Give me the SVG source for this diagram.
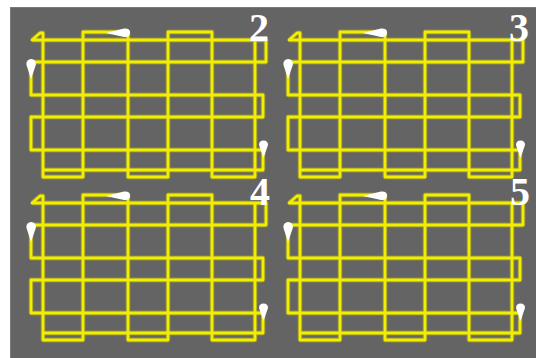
<svg xmlns="http://www.w3.org/2000/svg" xmlns:xlink="http://www.w3.org/1999/xlink" width="536" height="358" viewBox="0 0 536 358">
<style>
.bg{fill:#646464;stroke:#7a7a7a;stroke-width:1}
.sweep{fill:none;stroke:#f2ee00;stroke-width:2.8;stroke-linejoin:round;stroke-linecap:round}
.halo{fill:none;stroke:#c8c400;stroke-opacity:0.4;stroke-width:4.8;stroke-linejoin:round}
.mark{fill:#ffffff}
.num{font-family:"Liberation Serif","Times New Roman",serif;font-size:40px;font-weight:bold;fill:#ffffff;text-anchor:middle}
</style>
<defs>
<path id="route" d="M32,40 L40,33 L43,33 V177 H83 V32 H128 V177 H168 V32 H212 V177 H255 V40 M32,40 H266 V62 H31 V95 H263 V117 H31 V150 H263 V170 H43"/>
<g id="marks">
<path class="mark" d="M106,33 L124,28.5 Q130,28 130,32.5 Q130,37.5 124,37 Z"/>
<path class="mark" d="M31,79 L26.5,65 A4.8,4.8 0 1 1 35.8,65 Z"/>
<path class="mark" d="M263.5,158 L259,145 Q259,140.5 263.5,140.5 Q268,140.5 268,145 Z"/>
</g>
</defs>
<rect class="bg" x="10.5" y="7.5" width="526" height="351"/>
<g id="panel-2">
<use xlink:href="#route" href="#route" class="halo"/>
<use xlink:href="#route" href="#route" class="sweep"/>
<use xlink:href="#marks" href="#marks"/>
<text class="num" x="259" y="41">2</text>
</g>
<g id="panel-3" transform="translate(257,0)">
<use xlink:href="#route" href="#route" class="halo"/>
<use xlink:href="#route" href="#route" class="sweep"/>
<use xlink:href="#marks" href="#marks"/>
<text class="num" x="262" y="41">3</text>
</g>
<g id="panel-4" transform="translate(0,163)">
<use xlink:href="#route" href="#route" class="halo"/>
<use xlink:href="#route" href="#route" class="sweep"/>
<use xlink:href="#marks" href="#marks"/>
<text class="num" x="260" y="42">4</text>
</g>
<g id="panel-5" transform="translate(257,163)">
<use xlink:href="#route" href="#route" class="halo"/>
<use xlink:href="#route" href="#route" class="sweep"/>
<use xlink:href="#marks" href="#marks"/>
<text class="num" x="263" y="42">5</text>
</g>
</svg>
